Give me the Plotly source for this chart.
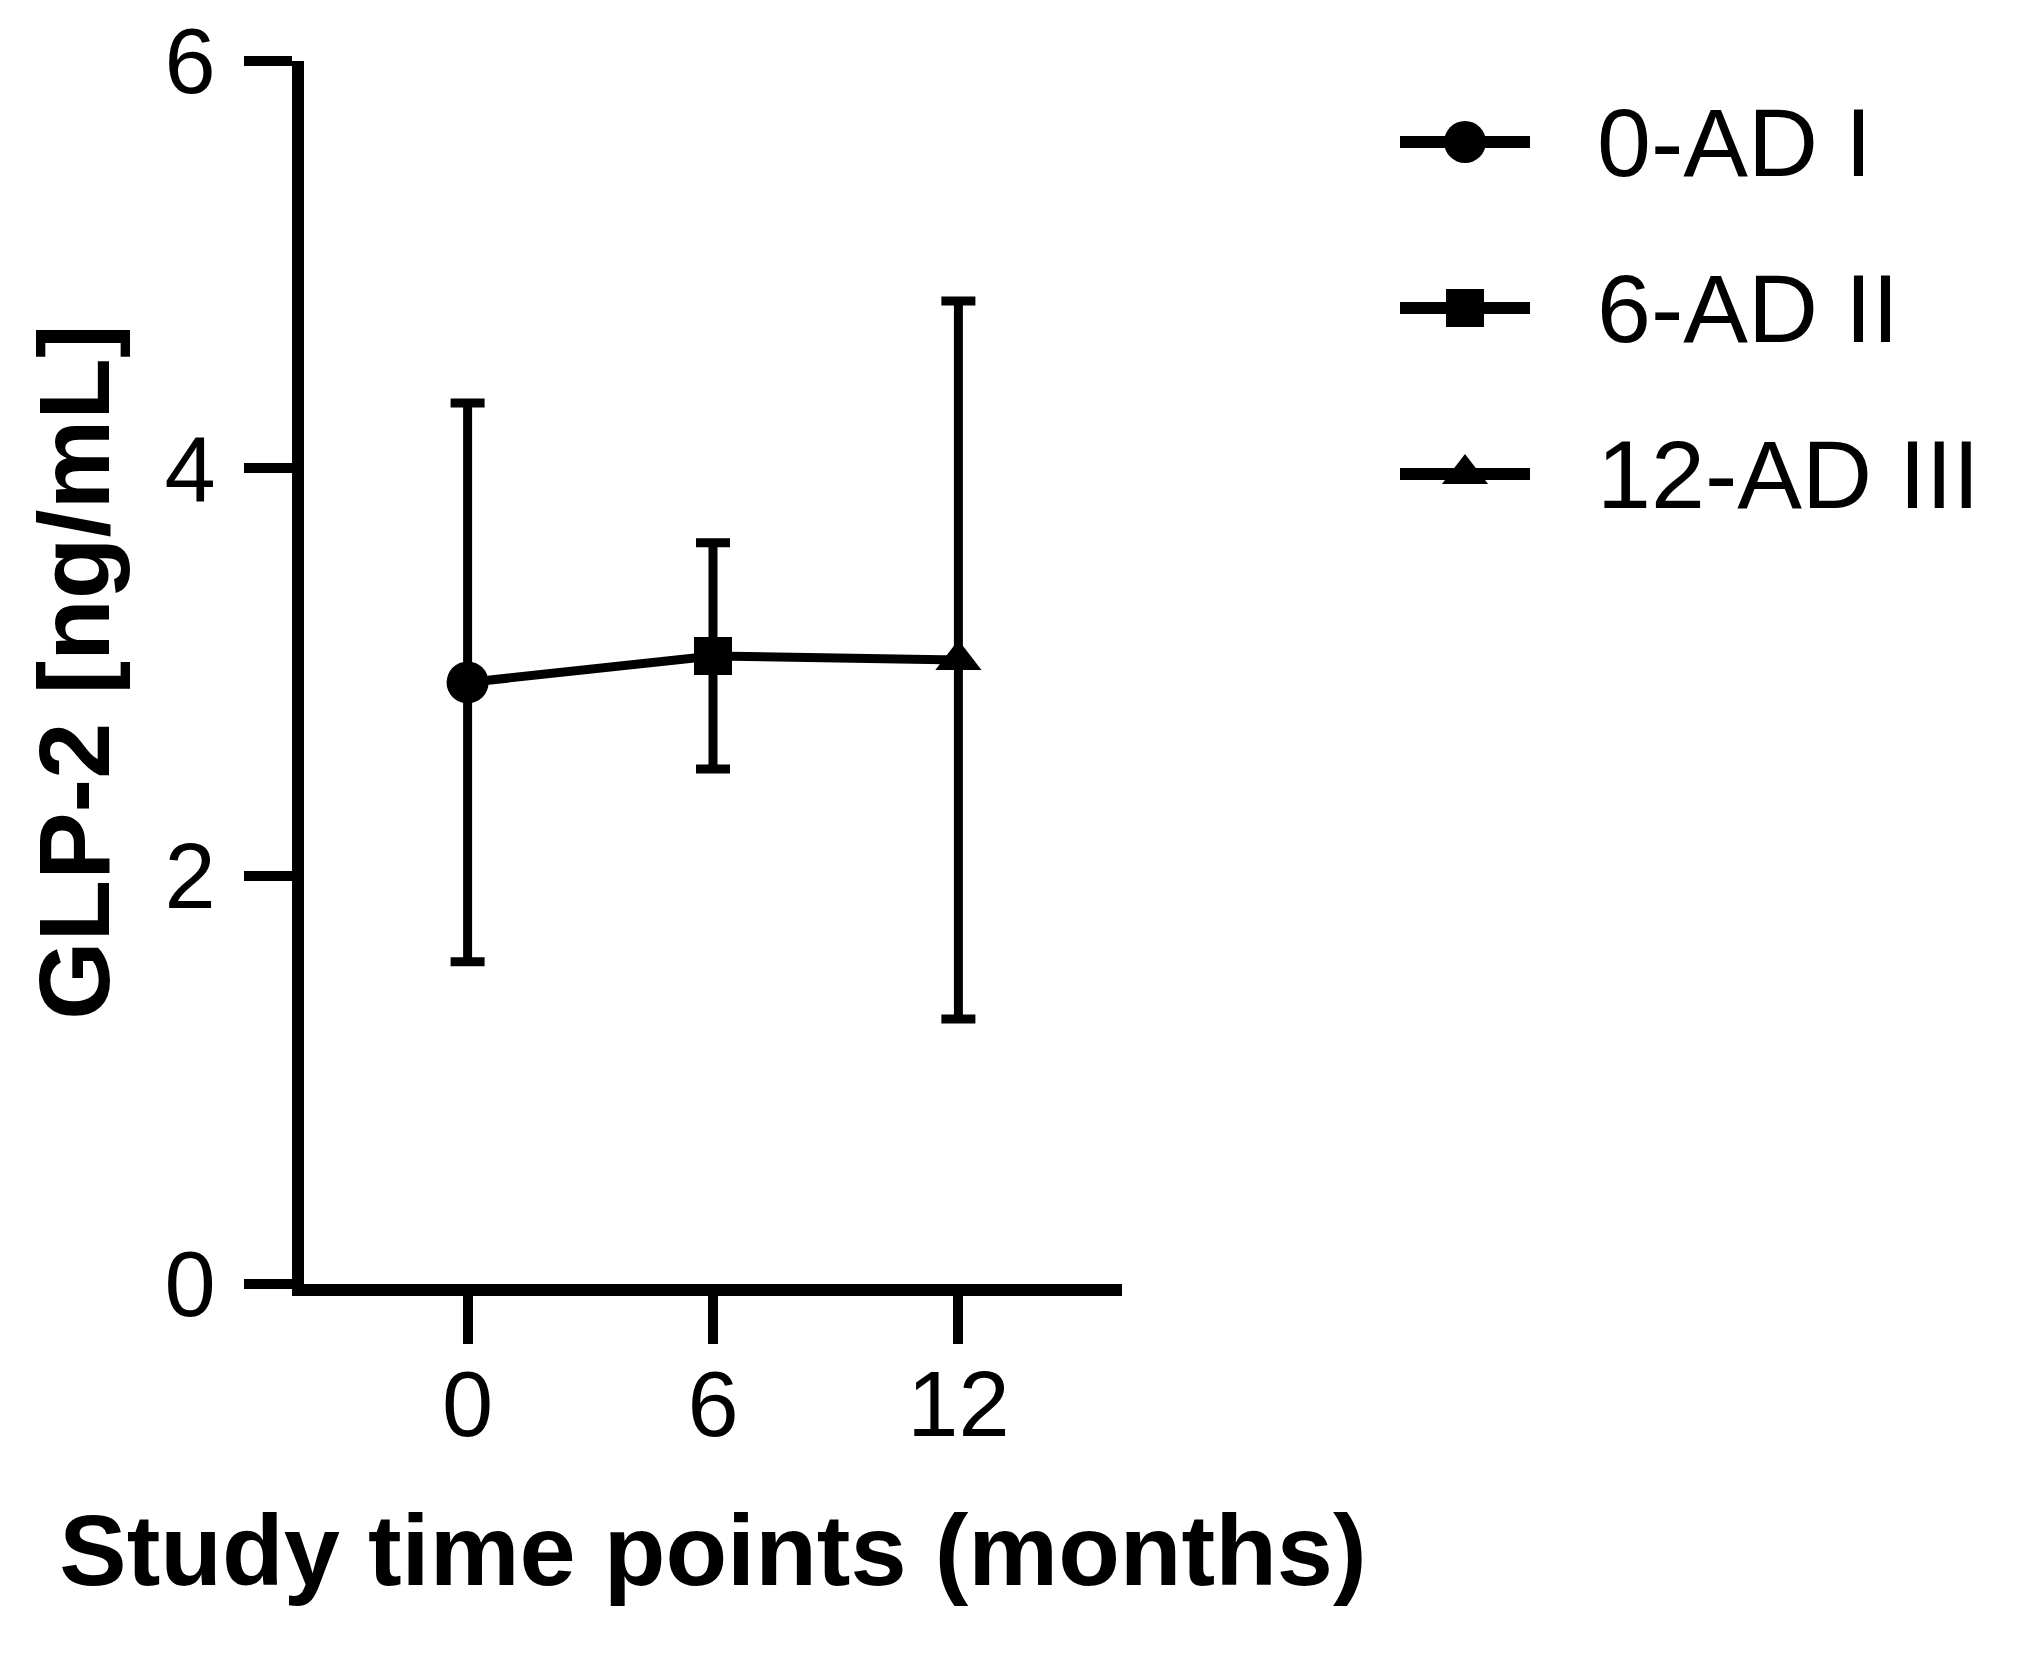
import plotly.graph_objects as go

# ---- data ----
months = [0, 6, 12]
series_names = ["0-AD I", "6-AD II", "12-AD III"]
means = [2.95, 3.08, 3.06]
errors = [1.37, 0.555, 1.76]
symbols = ["circle", "square", "triangle-up"]
marker_sizes = [42, 38, 40]
x_ticks = [0, 6, 12]
y_ticks = [0, 2, 4, 6]
x_title = "Study time points (months)"
y_title = "GLP-2 [ng/mL]"

W, H = 2019, 1655
FONT = "Arial, Liberation Sans, sans-serif"
Y_OFFSET = 8  # vertical page offset


def px_x(v):
    return v / W


def px_y(v):
    return 1 - (v - Y_OFFSET) / H


fig = go.Figure()

# connecting line
fig.add_trace(go.Scatter(
    x=months, y=means, mode="lines",
    line=dict(color="black", width=9),
    showlegend=False, hoverinfo="skip",
))

# points with error bars
for m, mu, e, sym, ms, name in zip(months, means, errors, symbols, marker_sizes, series_names):
    fig.add_trace(go.Scatter(
        x=[m], y=[mu], mode="markers", name=name,
        marker=dict(symbol=sym, size=ms, color="black", line=dict(width=0)),
        error_y=dict(type="data", array=[e], visible=True, color="black",
                     thickness=9, width=17),
        showlegend=False,
    ))

# legend drawn on a hidden pair of axes
rows = list(range(len(series_names)))
for i, (sym, ms, name) in enumerate(zip(symbols, marker_sizes, series_names)):
    fig.add_trace(go.Scatter(
        x=[-1, 1], y=[rows[i], rows[i]], mode="lines",
        line=dict(color="black", width=12),
        xaxis="x2", yaxis="y2", showlegend=False, hoverinfo="skip",
    ))
    fig.add_trace(go.Scatter(
        x=[0], y=[rows[i]], mode="markers",
        marker=dict(symbol=sym, size=ms, color="black", line=dict(width=0)),
        xaxis="x2", yaxis="y2", showlegend=False, hoverinfo="skip",
    ))
    fig.add_annotation(
        x=px_x(1587), xref="paper", xanchor="left",
        y=rows[i], yref="y2", yanchor="middle",
        text=name, showarrow=False,
        font=dict(family=FONT, size=97, color="black"),
    )

axis_common = dict(
    showgrid=False, zeroline=False, showline=True,
    linecolor="black", linewidth=12,
    ticks="outside", tickcolor="black", tickwidth=10,
    tickfont=dict(family=FONT, size=92, color="black"),
    automargin=False,
)

fig.update_layout(
    width=W, height=H,
    margin=dict(l=0, r=0, t=0, b=0),
    paper_bgcolor="white", plot_bgcolor="white",
    font=dict(family=FONT, color="black"),
    showlegend=False,
    xaxis=dict(
        domain=[px_x(296), px_x(1114)],
        range=[-4, 16], tickmode="array", tickvals=x_ticks,
        ticklen=48, ticklabelstandoff=-18,
        title=dict(text="<b>" + x_title + "</b>",
                   font=dict(family=FONT, size=101, color="black"), standoff=65),
        anchor="y",
        **axis_common,
    ),
    yaxis=dict(
        domain=[px_y(1284), px_y(60.5)],
        range=[0, 6], tickmode="array", tickvals=y_ticks,
        ticklen=48, ticklabelstandoff=10,
        title=dict(text="<b>" + y_title + "</b>",
                   font=dict(family=FONT, size=101, color="black"), standoff=26),
        anchor="x",
        **axis_common,
    ),
    xaxis2=dict(domain=[px_x(1392), px_x(1522)], range=[-1, 1],
                visible=False, anchor="y2", fixedrange=True),
    yaxis2=dict(domain=[px_y(557), px_y(59)], range=[2.5, -0.5],
                visible=False, anchor="x2", fixedrange=True),
)

fig.write_html("out.html")
